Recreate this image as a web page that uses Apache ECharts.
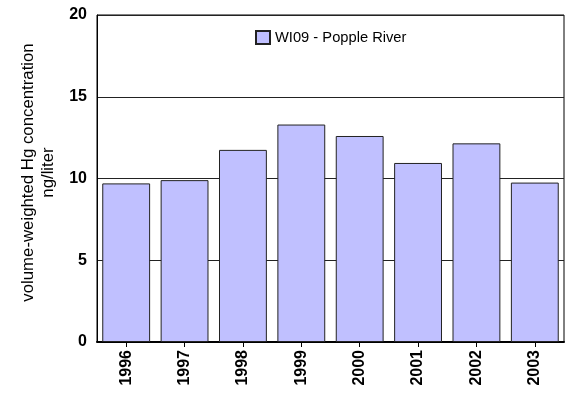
<!DOCTYPE html>
<html>
<head>
<meta charset="utf-8">
<script src="https://cdn.jsdelivr.net/npm/echarts@6/dist/echarts.min.js"></script>
<style>
html,body{margin:0;padding:0;background:#fff;}
#chart{width:568px;height:393px;}
</style>
</head>
<body>
<div id="chart"></div>
<script>
const categories = ['1996','1997','1998','1999','2000','2001','2002','2003'];
const seriesName = 'WI09 - Popple River';
const hgValues = [9.7, 9.9, 11.75, 13.3, 12.6, 10.95, 12.15, 9.75];
const yTicks = { min: 0, max: 20, interval: 5 };

const chart = echarts.init(document.getElementById('chart'));
chart.setOption({
  animation: false,
  backgroundColor: '#ffffff',
  textStyle: { fontFamily: 'Liberation Sans, Arial, sans-serif' },
  grid: {
    left: 97, top: 15, width: 467, height: 327,
    show: true, borderColor: '#000', borderWidth: 1, backgroundColor: 'transparent'
  },
  legend: {
    left: 250, top: 25,
    itemWidth: 14, itemHeight: 13, itemGap: 6,
    textStyle: { fontSize: 14.7, color: '#000', fontFamily: 'Liberation Sans, Arial, sans-serif' },
    data: [{ name: seriesName, icon: 'rect' }]
  },
  xAxis: {
    type: 'category',
    data: categories,
    axisLine: { show: true, lineStyle: { color: '#000', width: 2 } },
    axisTick: { show: true, alignWithLabel: true, length: 5, lineStyle: { color: '#000' } },
    axisLabel: { rotate: 90, fontSize: 16, fontWeight: 'bold', color: '#000', margin: 8,
      fontFamily: 'Liberation Sans, Arial, sans-serif' },
    splitLine: { show: false }
  },
  yAxis: {
    type: 'value',
    min: yTicks.min, max: yTicks.max, interval: yTicks.interval,
    name: 'volume-weighted Hg concentration\nng/liter',
    nameLocation: 'middle',
    nameRotate: 90,
    nameGap: 33,
    nameTextStyle: { fontSize: 16.8, color: '#000', lineHeight: 20, align: 'center',
      fontFamily: 'Liberation Sans, Arial, sans-serif', padding: [0, 0, 0, 12] },
    axisLine: { show: true, lineStyle: { color: '#000', width: 1 } },
    axisTick: { show: false },
    axisLabel: { fontSize: 16, fontWeight: 'bold', color: '#000', margin: 10,
      fontFamily: 'Liberation Sans, Arial, sans-serif' },
    splitLine: { show: true, lineStyle: { color: '#222', width: 1 } }
  },
  series: [{
    name: seriesName,
    type: 'bar',
    data: hgValues,
    barCategoryGap: '18%',
    itemStyle: { color: '#c0c0ff', borderColor: '#222', borderWidth: 1 }
  }]
});
</script>
</body>
</html>
